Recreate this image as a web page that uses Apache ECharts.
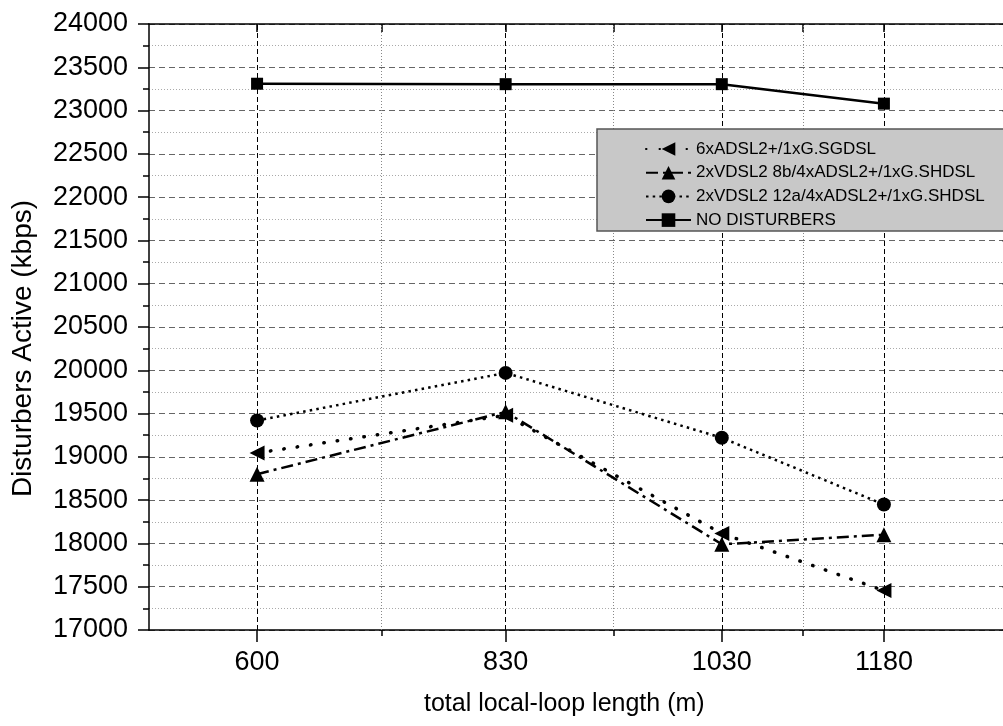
<!DOCTYPE html>
<html><head><meta charset="utf-8">
<script src="https://cdn.jsdelivr.net/npm/echarts@6/dist/echarts.min.js"></script>
<style>html,body{margin:0;padding:0;background:#fff}#c{width:1003px;height:726px}</style>
</head><body><div id="c"></div>
<script>
// ---- data ----
const lengths = [600, 830, 1030, 1180];
const minorLengths = [715, 930, 1105];
const seriesNames = ['6xADSL2+/1xG.SGDSL', '2xVDSL2 8b/4xADSL2+/1xG.SHDSL', '2xVDSL2 12a/4xADSL2+/1xG.SHDSL', 'NO DISTURBERS'];
const sgdsl = [19045, 19480, 18115, 17455];
const vdsl8b = [18800, 19520, 17990, 18100];
const vdsl12a = [19420, 19970, 19220, 18450];
const noDisturbers = [23310, 23305, 23305, 23080];
const xTitle = 'total local-loop length (m)';
const yTitle = 'Disturbers Active (kbps)';

const FONT = 'Liberation Sans, Arial, sans-serif';
const pair = arr => lengths.map((x, i) => [x, arr[i]]);
const blk = {color: '#000', width: 1.5};
const plain = v => String(v);

const chart = echarts.init(document.getElementById('c'), null, {renderer: 'canvas'});
const baseSeries = (name, arr, symbol, size, lineType, width, extra) => Object.assign({
  name: name, type: 'line', data: pair(arr), symbol: symbol, symbolSize: size,
  itemStyle: {color: '#000'},
  lineStyle: {color: '#000', width: width, type: lineType},
  emphasis: {disabled: true}, z: 3
}, extra || {});

chart.setOption({
  animation: false,
  textStyle: {fontFamily: FONT},
  grid: {left: 149, top: 24, right: -10.6, bottom: 96, outerBoundsMode: 'none'},
  xAxis: [
    {type: 'value', min: 500, max: 1300, position: 'bottom',
     axisLine: {lineStyle: blk}, axisTick: {customValues: lengths, length: 12, lineStyle: blk},
     axisLabel: {customValues: lengths, formatter: plain, fontSize: 27, color: '#000', margin: 19, fontFamily: FONT},
     splitLine: {show: false},
     name: xTitle, nameLocation: 'middle', nameGap: 62,
     nameTextStyle: {fontSize: 25, color: '#000', fontFamily: FONT, padding: [0, 34, 0, 0]}},
    {type: 'value', min: 500, max: 1300, position: 'bottom',
     axisLine: {show: false}, axisTick: {customValues: minorLengths, length: 6, lineStyle: blk},
     axisLabel: {show: false}, splitLine: {show: false}},
    {type: 'value', min: 500, max: 1300, position: 'top',
     axisLine: {lineStyle: blk}, axisTick: {customValues: lengths.concat(minorLengths), inside: true, length: 8, lineStyle: blk},
     axisLabel: {show: false}, splitLine: {show: false}}
  ],
  yAxis: [
    {type: 'value', min: 17000, max: 24000, interval: 500, position: 'left',
     axisLine: {show: true, lineStyle: blk},
     axisTick: {show: true, length: 11, lineStyle: blk},
     minorTick: {show: true, splitNumber: 2, length: 6, lineStyle: blk},
     axisLabel: {formatter: plain, fontSize: 27, color: '#000', margin: 21, fontFamily: FONT},
     splitLine: {show: true, lineStyle: {color: '#666', type: [6, 4], width: 1}},
     minorSplitLine: {show: true, lineStyle: {color: '#aaa', type: [1, 2], width: 1}},
     name: yTitle, nameLocation: 'middle', nameGap: 112, nameRotate: 90,
     nameTextStyle: {fontSize: 28, color: '#000', fontFamily: FONT, padding: [0, 43, 0, 0]}},
    {type: 'value', min: 17000, max: 24000, interval: 500, position: 'right',
     axisLine: {show: true, lineStyle: blk},
     axisTick: {show: true, inside: true, length: 11, lineStyle: blk},
     minorTick: {show: true, splitNumber: 2, length: 6, lineStyle: blk},
     axisLabel: {show: false}, splitLine: {show: false}}
  ],
  legend: {
    data: seriesNames, orient: 'vertical', left: 597, top: 129,
    backgroundColor: '#c8c8c8', borderColor: '#555', borderWidth: 1.5, borderRadius: 0,
    padding: [11.5, 45, 2.5, 48], itemWidth: 45, itemHeight: 17, itemGap: 6.7,
    textStyle: {fontSize: 17, lineHeight: 17, color: '#000', fontFamily: FONT},
    selectedMode: false, z: 10
  },
  series: [
    {name: 'grid-verticals', type: 'line', data: [], z: 1, silent: true,
     markLine: {symbol: 'none', silent: true, label: {show: false}, animation: false, z: 1,
       data: lengths.map(v => ({xAxis: v, lineStyle: {color: '#000', type: [5, 3], width: 1}}))
         .concat(minorLengths.map(v => ({xAxis: v, lineStyle: {color: '#888', type: [1, 2], width: 1}})))}},
    baseSeries(seriesNames[0], sgdsl, 'triangle', 15, [0.5, 13], 3.5, {symbolRotate: 90, lineStyle: {color: '#000', width: 3.5, type: [0.5, 13], cap: 'round'}}),
    baseSeries(seriesNames[1], vdsl8b, 'triangle', 15, [12, 5, 3, 5], 2.5),
    baseSeries(seriesNames[2], vdsl12a, 'circle', 14, [2.5, 4.2], 2.5),
    baseSeries(seriesNames[3], noDisturbers, 'rect', 12, 'solid', 2.5)
  ]
});
</script>
</body></html>
